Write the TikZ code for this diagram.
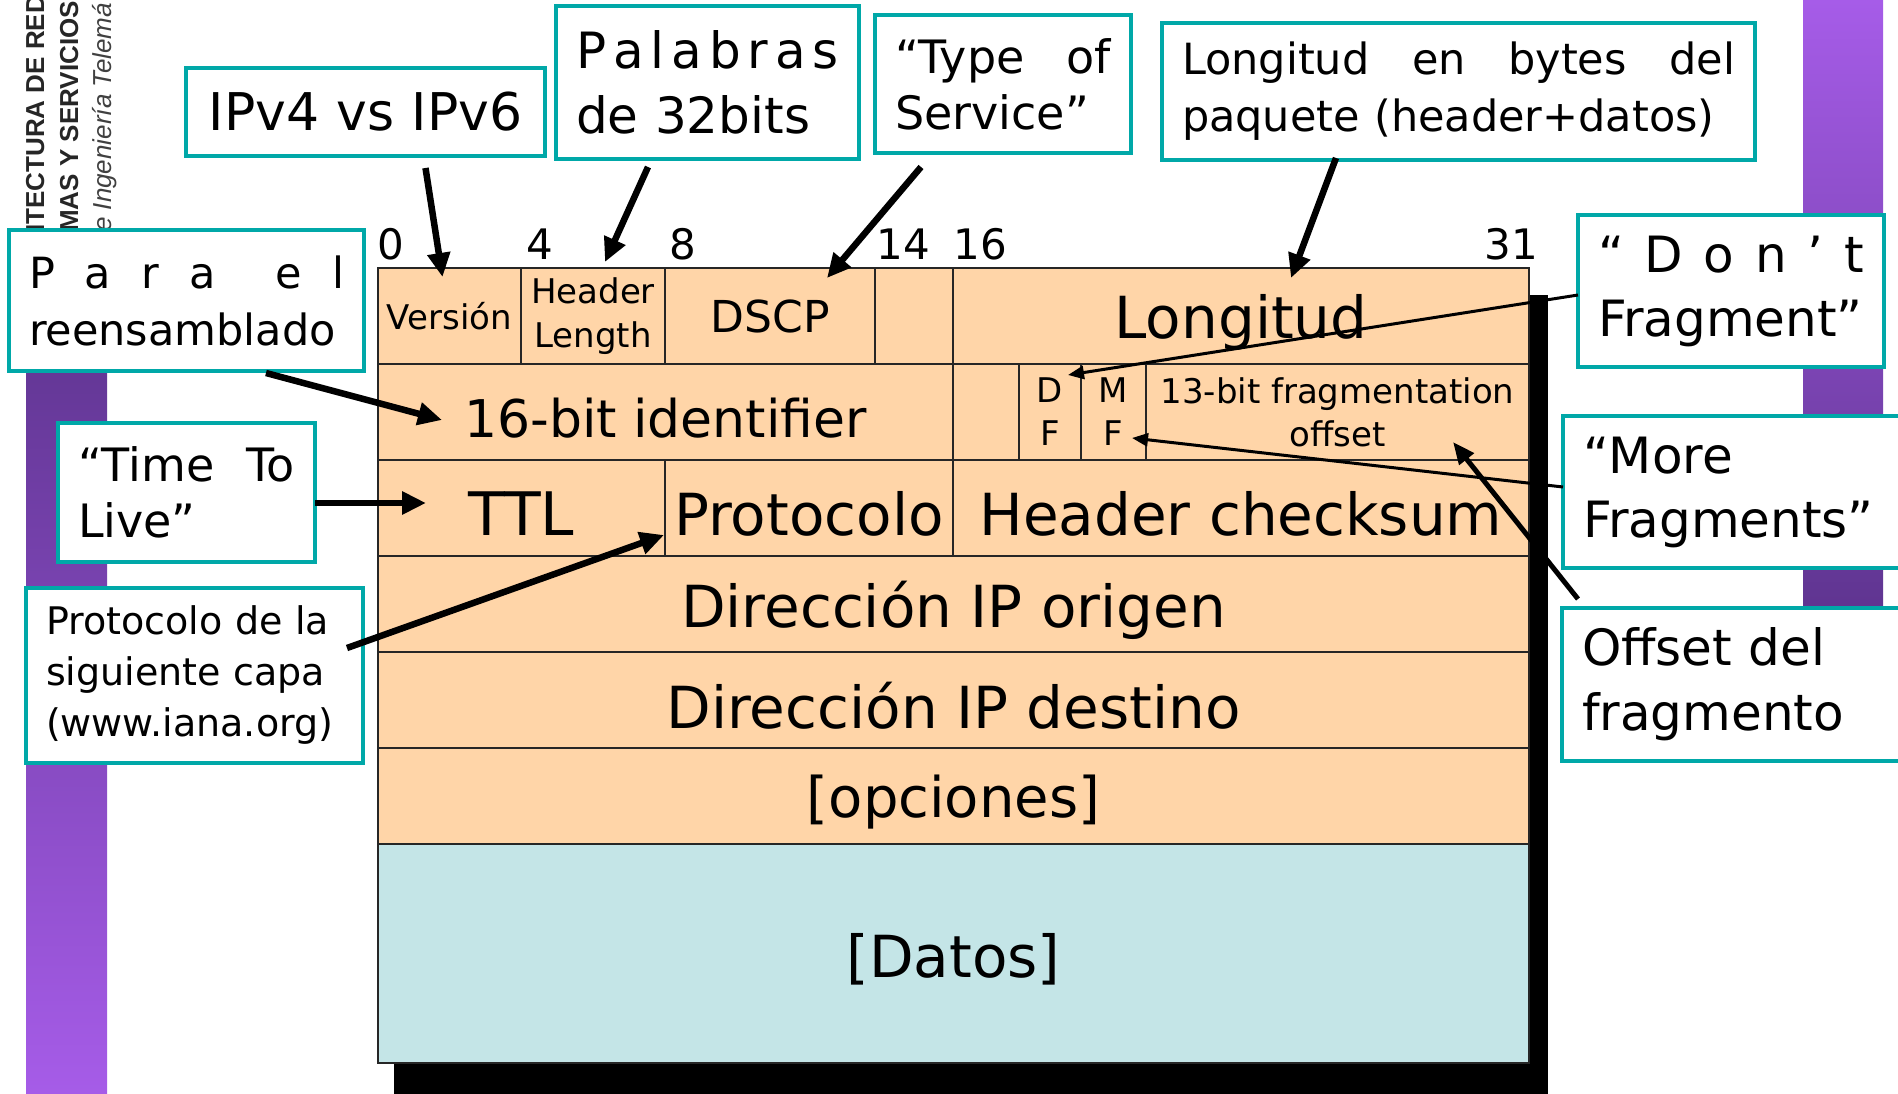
\documentclass[tikz,border=0pt]{standalone}
\usepackage{fontspec}
\setmainfont{DejaVu Sans}
\newfontfamily\arialf{Liberation Sans}
\usetikzlibrary{arrows.meta,calc}
\definecolor{tealb}{RGB}{0,168,168}
\definecolor{peach}{RGB}{255,213,168}
\definecolor{datab}{RGB}{196,229,231}
\definecolor{purpD}{RGB}{94,52,143}
\definecolor{purpL}{RGB}{166,92,232}
\newcommand{\fsz}[2]{\fontsize{#1pt}{#2pt}\selectfont}
\newcommand{\dn}[1]{\raisebox{-6pt}[\height][\depth]{#1}}
\tikzset{
  cell/.style={draw=black!85, line width=1.8pt, fill=peach, inner sep=0pt, outer sep=0pt, align=center},
  callout/.style={draw=tealb, line width=3.5pt, fill=white, inner xsep=20pt, inner ysep=0pt, outer sep=0pt, align=left},
  bitlbl/.style={anchor=base, inner sep=0pt, font=\fsz{42}{48}},
  bigarr/.style={line width=6.5pt, -{Triangle[length=24pt,width=22pt]}},
  thinarr/.style={line width=3pt, -{Triangle[length=16pt,width=13pt]}},
  midarr/.style={line width=5pt, -{Triangle[length=22pt,width=18pt]}},
  sidetxt/.style={rotate=90, anchor=base west, inner sep=0pt}
}
% \field[fill]{name}{x1}{y1}{x2}{y2}{font}{text}
\newcommand{\field}[8][peach]{%
  \node[cell, fill=#1, font=#7, minimum width={#5-#3}, minimum height={#6-#4}] (#2) at ({(#3+#5)/2},{(#4+#6)/2}) {#8};}
\begin{document}
\begin{tikzpicture}[x=1pt,y=-1pt]
\useasboundingbox (0,0) rectangle (1898,1094);
% side bars
\shade[top color=purpD, bottom color=purpL] (26,300) rectangle (107,1094);
\shade[top color=purpL, bottom color=purpD] (1803,0) rectangle (1883,620);
% rotated header text
\node[sidetxt, font=\arialf\bfseries\fsz{26}{30}, text=black!85] (t1) at (44,232) {ITECTURA DE RED};
\node[sidetxt, font=\arialf\bfseries\fsz{26}{30}, text=black!85] (t2) at (78,232) {MAS Y SERVICIOS};
\node[sidetxt, font=\arialf\itshape\fsz{26}{30}, text=black!75] (t3) at (111,232) {e Ingeniería Telemá};
% shadow
\fill[black] (394,295) rectangle (1548,1100);
% header fields
\field{ver}{378}{268}{521}{364}{\fsz{34}{40}}{Versión}
\field{hlen}{521}{268}{665}{364}{\fsz{34}{44}}{Header\\Length}
\field{dscp}{665}{268}{875}{364}{\fsz{44}{50}}{DSCP}
\field{ecn}{875}{268}{953}{364}{}{}
\field{len}{953}{268}{1529}{364}{\fsz{58}{66}}{\dn{Longitud}}
\field{id}{378}{364}{953}{460}{\fsz{52}{60}}{\dn{16-bit identifier}}
\field{rsv}{953}{364}{1019}{460}{}{}
\field{df}{1019}{364}{1081}{460}{\fsz{34}{43}}{D\\F}
\field{mf}{1081}{364}{1146}{460}{\fsz{34}{43}}{M\\F}
\field{off}{1146}{364}{1529}{460}{\fsz{34}{43}}{13-bit fragmentation\\offset}
\field{ttl}{378}{460}{665}{556}{\fsz{60}{66}}{\dn{TTL}}
\field{proto}{665}{460}{953}{556}{\fsz{58}{66}}{\dn{Protocolo}}
\field{csum}{953}{460}{1529}{556}{\fsz{58}{66}}{\dn{Header checksum}}
\field{src}{378}{556}{1529}{652}{\fsz{58}{66}}{\dn{Dirección IP origen}}
\field{dst}{378}{652}{1529}{748}{\fsz{58}{66}}{\dn{Dirección IP destino}}
\field{opt}{378}{748}{1529}{844}{\fsz{56}{66}}{\dn{[opciones]}}
\field[datab]{data}{378}{844}{1529}{1063}{\fsz{58}{66}}{\dn{[Datos]}}
% bit numbers
\node[bitlbl] (b0) at (391,259) {0};
\node[bitlbl] (b4) at (540,259) {4};
\node[bitlbl] (b8) at (683,259) {8};
\node[bitlbl] (b14) at (903,259) {14};
\node[bitlbl] (b16) at (980,259) {16};
\node[bitlbl] (b31) at (1511,259) {31};
% callouts
\node[callout, align=center, text width=319pt, minimum height=88pt, font=\fsz{52}{60}] (ipv) at (365.5,112) {IPv4 vs IPv6};
\node[callout, text width=263pt, minimum height=153pt, font=\fsz{50}{65}] (pal) at (707.5,82.5) {\makebox[263pt][s]{P\hfill a\hfill l\hfill a\hfill b\hfill r\hfill a\hfill s}\\de 32bits};
\node[callout, text width=216pt, minimum height=138pt, font=\fsz{46}{56}] (tos) at (1003,84) {\makebox[216pt][s]{“Type\hfill of}\\Service”};
\node[callout, text width=553pt, minimum height=137pt, font=\fsz{43}{57}] (lbox) at (1458.5,91.5) {\makebox[553pt][s]{Longitud\hfill en\hfill bytes\hfill del}\\paquete (header+datos)};
\node[callout, text width=315pt, minimum height=141pt, font=\fsz{43}{57}] (para) at (186.5,300.5) {\makebox[315pt][s]{P\hfill a\hfill r\hfill a\hfill\hfill e\hfill l}\\reensamblado};
\node[callout, text width=217pt, minimum height=139pt, font=\fsz{46}{56}] (ttlb) at (186.5,492.5) {\makebox[217pt][s]{“Time\hfill To}\\Live”};
\node[callout, text width=297pt, minimum height=175pt, font=\fsz{38}{51}] (prb) at (194.5,675.5) {Protocolo de la\\siguiente capa\\(www.iana.org)};
\node[callout, text width=266pt, minimum height=152pt, font=\fsz{50}{64}] (dfb) at (1731,291) {\makebox[266pt][s]{“\hfill D\hfill o\hfill n\hfill ’\hfill t}\\Fragment”};
\node[callout, text width=307pt, minimum height=152pt, font=\fsz{50}{64}] (mfb) at (1736.5,492) {“More\\Fragments”};
\node[callout, text width=308pt, minimum height=153pt, font=\fsz{50}{65}] (ofb) at (1736,684.5) {Offset del\\fragmento};
% connectors
\draw[bigarr] ($(ipv.south)+(60,12)$) -- ($(ver.north)+(-7,9)$);
\draw[bigarr] ($(pal.south)+(-59.5,8)$) -- ($(hlen.north)+(12,-6)$);
\draw[bigarr] ($(tos.south)+(-82,14)$) -- ($(dscp.north)+(57,10)$);
\draw[bigarr] ($(lbox.south)+(-122.5,-2)$) -- ($(len.north)+(50,10)$);
\draw[bigarr] ($(para.south)+(79.5,2)$) -- ($(id.west)+(64,8)$);
\draw[bigarr] ($(ttlb.east)+(0,10.5)$) -- ($(ttl.west)+(48,-5)$);
\draw[bigarr] ($(prb.east)+(-16,-27.5)$) -- ($(proto.south west)+(-1,-21)$);
\draw[thinarr] ($(dfb.west)+(0,4)$) -- ($(df.north east)+(-13,11)$);
\draw[thinarr] ($(mfb.west)+(0,-5)$) -- ($(mf.east)+(-14,26)$);
\draw[midarr] ($(ofb.north west)+(16,-9)$) -- ($(off.center)+(115.5,30)$);
\end{tikzpicture}
\end{document}
